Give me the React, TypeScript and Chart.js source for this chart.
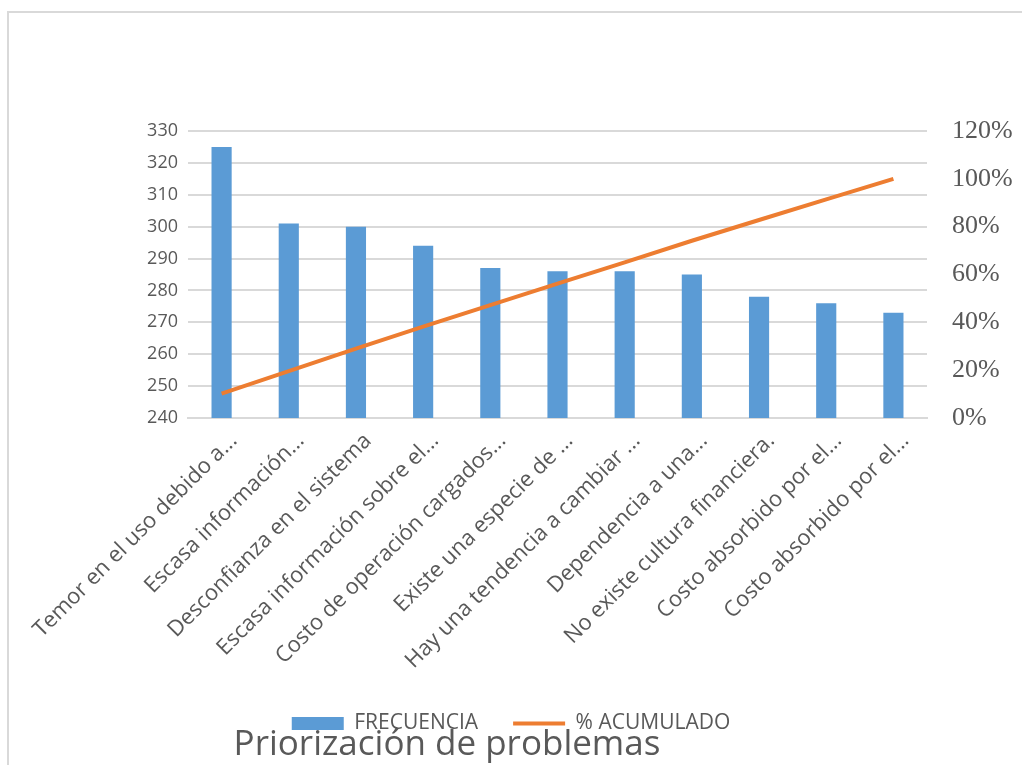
import React, { useEffect, useRef } from "react";
import { Chart, registerables } from "chart.js";

Chart.register(...registerables);

const categories = [
  "Temor en el uso debido a...",
  "Escasa información...",
  "Desconfianza en el sistema",
  "Escasa información sobre el...",
  "Costo de operación cargados...",
  "Existe una especie de ...",
  "Hay una tendencia a cambiar ...",
  "Dependencia a una...",
  "No existe cultura financiera.",
  "Costo absorbido por el...",
  "Costo absorbido por el...",
];

const frecuencia = [325, 301, 300, 294, 287, 286, 286, 285, 278, 276, 273];
const acumulado = [10.2, 19.6, 29.0, 38.2, 47.2, 56.2, 65.1, 74.1, 82.8, 91.4, 100];

const leftTicks = [240, 250, 260, 270, 280, 290, 300, 310, 320, 330];
const rightTicks = [0, 20, 40, 60, 80, 100, 120];

const titleText = "Priorización de problemas";

export default function App() {
  const ref = useRef<HTMLCanvasElement | null>(null);

  useEffect(() => {
    if (!ref.current) return;
    const chart = new Chart(ref.current, {
      type: "bar",
      data: {
        labels: categories,
        datasets: [
          {
            type: "bar",
            label: "FRECUENCIA",
            data: frecuencia,
            backgroundColor: "#5b9bd5",
            borderWidth: 0,
            yAxisID: "y",
            barPercentage: 0.3,
            categoryPercentage: 1,
            pointStyle: "rect",
            order: 2,
          } as any,
          {
            type: "line",
            label: "% ACUMULADO",
            data: acumulado,
            borderColor: "#ed7d31",
            backgroundColor: "#ed7d31",
            borderWidth: 4,
            pointRadius: 0,
            tension: 0,
            yAxisID: "y1",
            pointStyle: "line",
            order: 1,
          } as any,
        ],
      },
      options: {
        animation: false,
        responsive: false,
        maintainAspectRatio: false,
        layout: { padding: { top: 131, bottom: 21, left: 0, right: 0 } },
        plugins: {
          tooltip: { enabled: false },
          title: { display: false },
          legend: {
            position: "bottom",
            labels: {
              usePointStyle: true,
              pointStyleWidth: 52,
              boxHeight: 13,
              padding: 35,
              color: "#595959",
              font: { family: "Open Sans", size: 21 },
              sort: (a: any, b: any) => a.datasetIndex - b.datasetIndex,
            },
          },
        },
        scales: {
          x: {
            grid: { display: false, drawTicks: false },
            border: { display: true, color: "#d9d9d9", width: 2 },
            ticks: {
              autoSkip: false,
              maxRotation: 45,
              minRotation: 45,
              color: "#595959",
              font: { family: "Open Sans", size: 22 },
              padding: 10,
              labelOffset: 12,
            },
            afterFit: (s: any) => {
              s.height = 260;
            },
          },
          y: {
            position: "left",
            min: 240,
            max: 330,
            afterBuildTicks: (s: any) => {
              s.ticks = leftTicks.map((v) => ({ value: v }));
            },
            grid: { color: "#d9d9d9", lineWidth: 2, drawTicks: false },
            border: { display: false },
            ticks: {
              color: "#595959",
              font: { family: "Open Sans", size: 18 },
              padding: 10,
            },
            afterFit: (s: any) => {
              s.width = 188;
            },
          },
          y1: {
            position: "right",
            min: 0,
            max: 120,
            afterBuildTicks: (s: any) => {
              s.ticks = rightTicks.map((v) => ({ value: v }));
            },
            grid: { display: false, drawTicks: false },
            border: { display: false },
            ticks: {
              color: "#595959",
              font: { family: "Liberation Serif", size: 26 },
              padding: 25,
              callback: (v: any) => v + "%",
            },
            afterFit: (s: any) => {
              s.width = 1022 - 927;
            },
          },
        },
      },
    });
    return () => chart.destroy();
  }, []);

  return (
    <div style={{ position: "fixed", left: 0, top: 0, width: 1022, height: 765, background: "#fff", overflow: "hidden" }}>
      <div
        style={{
          position: "absolute",
          left: 7,
          top: 11,
          width: 1100,
          height: 900,
          border: "2px solid #d9d9d9",
          boxSizing: "border-box",
        }}
      />
      <canvas ref={ref} width={1022} height={765} style={{ position: "absolute", left: 0, top: 0 }} />
      <div
        style={{
          position: "absolute",
          left: 0,
          width: 894,
          top: 722,
          textAlign: "center",
          fontFamily: "Open Sans",
          fontSize: 35,
          lineHeight: "40px",
          color: "#595959",
          whiteSpace: "nowrap",
        }}
      >
        {titleText}
      </div>
    </div>
  );
}
